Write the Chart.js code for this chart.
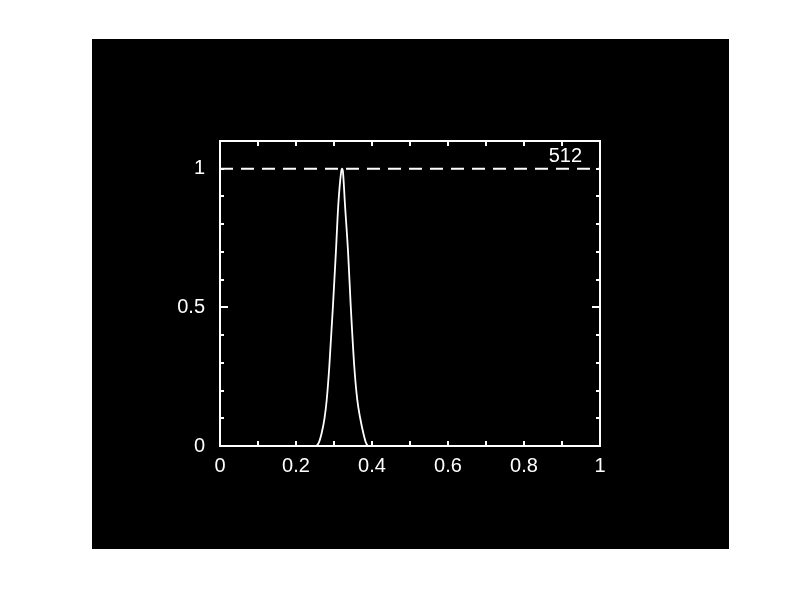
<!DOCTYPE html>
<html>
<head>
<meta charset="utf-8">
<script src="https://cdn.jsdelivr.net/npm/chart.js@4/dist/chart.umd.min.js"></script>
<style>
    body { margin: 0; background: #fff; }
    #frame { position: absolute; left: 92px; top: 39px; width: 637px; height: 510px; background: #000; }
</style>
</head>
<body>
<div id="frame"><canvas id="chart" width="637" height="510"></canvas></div>
<script>
// values
const peakX = [0, 0.2526, 0.2600, 0.2676, 0.2750, 0.2808, 0.2876, 0.2974, 0.3050, 0.3113, 0.3190, 0.3211,
               0.3235, 0.3289, 0.3370, 0.3439, 0.3534, 0.3613, 0.3690, 0.3771, 0.3840, 0.3903, 1];
const peakY = [0, 0, 0.012, 0.047, 0.10, 0.166, 0.286, 0.509, 0.70, 0.87, 0.99, 1.0,
               0.99, 0.87, 0.70, 0.509, 0.286, 0.166, 0.10, 0.047, 0.012, 0, 0];
const refX = [0, 1];
const refY = [1, 1];
const yLabels = [0, 0.5, 1];
const xLabels = [0, 0.2, 0.4, 0.6, 0.8, 1];
const cornerLabel = '512';

const FONT = "'Liberation Sans', Arial, sans-serif";

// box around the plot with inward ticks on every side
const frameTicks = {
    id: 'frameTicks',
    afterDatasetsDraw(chart) {
        const { ctx, chartArea: a, scales } = chart;
        ctx.save();
        ctx.strokeStyle = '#fff';
        ctx.lineWidth = 2;
        ctx.strokeRect(a.left, a.top, a.right - a.left, a.bottom - a.top);
        ctx.beginPath();
        scales.x.ticks.forEach(t => {
            const px = Math.round(scales.x.getPixelForValue(t.value));
            ctx.moveTo(px, a.bottom); ctx.lineTo(px, a.bottom - 5);
            ctx.moveTo(px, a.top); ctx.lineTo(px, a.top + 5);
        });
        scales.y.ticks.forEach(t => {
            const py = Math.round(scales.y.getPixelForValue(t.value));
            const len = Math.abs(t.value - 0.5) < 1e-6 ? 8 : 4;
            ctx.moveTo(a.left, py); ctx.lineTo(a.left + len, py);
            ctx.moveTo(a.right, py); ctx.lineTo(a.right - len, py);
        });
        ctx.stroke();
        ctx.fillStyle = '#fff';
        ctx.font = '20px ' + FONT;
        ctx.textAlign = 'right';
        ctx.textBaseline = 'middle';
        ctx.fillText(cornerLabel, a.right - 18, a.top + 15);
        ctx.restore();
    }
};

const near = (v, list) => list.some(l => Math.abs(l - v) < 1e-6);

new Chart(document.getElementById('chart'), {
    type: 'line',
    data: {
        datasets: [
            {
                data: refX.map((x, i) => ({ x, y: refY[i] })),
                borderColor: '#fff',
                borderWidth: 2,
                borderDash: [13, 8],
                pointRadius: 0
            },
            {
                data: peakX.map((x, i) => ({ x, y: peakY[i] })),
                borderColor: '#fff',
                borderWidth: 1.8,
                cubicInterpolationMode: 'monotone',
                pointRadius: 0
            }
        ]
    },
    options: {
        responsive: false,
        animation: false,
        layout: { padding: { left: 48, top: 102, right: 129, bottom: 73 } },
        plugins: { legend: { display: false }, tooltip: { enabled: false } },
        scales: {
            x: {
                type: 'linear',
                min: 0, max: 1,
                afterFit(s) { s.height = 30; },
                grid: { display: false, drawTicks: false },
                border: { display: false },
                ticks: {
                    stepSize: 0.1,
                    padding: 8,
                    maxRotation: 0,
                    autoSkip: false,
                    color: '#fff',
                    font: { family: FONT, size: 20 },
                    callback: v => near(v, xLabels) ? String(Math.round(v * 10) / 10) : ''
                }
            },
            y: {
                min: 0, max: 1.1,
                afterFit(s) { s.width = 80; },
                grid: { display: false, drawTicks: false },
                border: { display: false },
                ticks: {
                    stepSize: 0.1,
                    padding: 15,
                    autoSkip: false,
                    color: '#fff',
                    font: { family: FONT, size: 20 },
                    callback: v => near(v, yLabels) ? String(Math.round(v * 10) / 10) : ''
                }
            }
        }
    },
    plugins: [frameTicks]
});
</script>
</body>
</html>
